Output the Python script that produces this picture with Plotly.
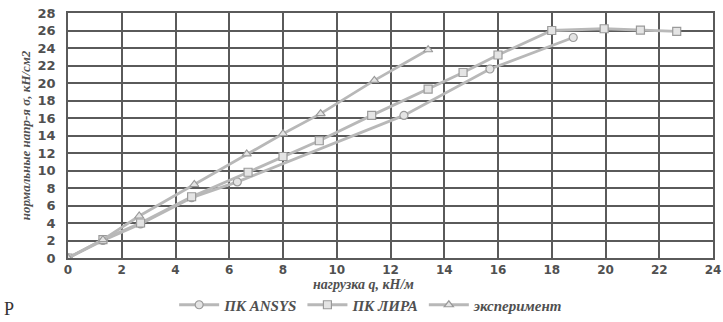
import plotly.graph_objects as go

# load q, kN/m  and normal stress sigma, kN/cm2
ansys_q = [0, 1.3, 2.7, 4.6, 6.3, 12.5, 15.7, 18.8]
ansys_s = [0, 2.0, 3.9, 6.9, 8.7, 16.3, 21.6, 25.2]

lira_q = [0, 1.3, 2.7, 4.6, 6.7, 8.0, 9.35, 11.3, 13.4, 14.7, 16.0, 18.0, 19.95, 21.3, 22.65]
lira_s = [0, 2.1, 4.0, 7.0, 9.8, 11.6, 13.4, 16.3, 19.3, 21.2, 23.2, 26.0, 26.2, 26.05, 25.9]

exp_q = [0, 1.3, 2.65, 4.7, 6.65, 8.0, 9.4, 11.4, 13.4]
exp_s = [0, 2.1, 4.8, 8.4, 11.9, 14.2, 16.5, 20.3, 23.8]

series_names = ["ПК ANSYS", "ПК ЛИРА", "эксперимент"]
x_ticks = list(range(0, 25, 2))
y_ticks = list(range(0, 29, 2))
x_title = "нагрузка q, кН/м"
y_title = "нормальные напр-я σ, кН/см2"

line_col = "#b8b8b8"
fill_col = "#e4e4e4"
edge_col = "#9a9a9a"
grid_col = "#5a5a5a"
txt_col = "#505050"
serif_bi = dict(family="Liberation Serif", color=txt_col, style="italic", weight="bold")

fig = go.Figure()
for name, xs, ys, sym in [
    (series_names[0], ansys_q, ansys_s, "circle"),
    (series_names[1], lira_q, lira_s, "square"),
    (series_names[2], exp_q, exp_s, "triangle-up"),
]:
    fig.add_trace(go.Scatter(
        x=xs, y=ys, name=name, mode="lines+markers",
        line=dict(color=line_col, width=2.8),
        marker=dict(symbol=sym, size=8, color=fill_col,
                    line=dict(color=edge_col, width=1.2)),
    ))

fig.update_layout(
    width=723, height=322,
    margin=dict(l=68, r=10, t=13, b=64, autoexpand=False),
    paper_bgcolor="white", plot_bgcolor="white",
    showlegend=True,
    legend=dict(orientation="h", x=0.47, xanchor="center",
                yref="container", y=0.104, yanchor="top",
                font=dict(size=15, **serif_bi),
                itemwidth=40, tracegroupgap=0, bgcolor="rgba(0,0,0,0)"),
    annotations=[
        # axis title for the load axis
        dict(text=x_title, x=0.458, y=-0.108, xref="paper", yref="paper",
             showarrow=False, xanchor="center", yanchor="middle",
             font=dict(size=14, **serif_bi)),
        # fragment of the figure caption at the lower-left edge
        dict(text="Р", x=-0.102, y=-0.258, xref="paper", yref="paper",
             showarrow=False, xanchor="left", yanchor="bottom",
             font=dict(family="Liberation Serif", size=18, color="#333")),
    ],
)

fig.update_xaxes(
    range=[0, 24], tickvals=x_ticks, ticktext=[str(v) for v in x_ticks],
    showgrid=True, gridcolor=grid_col, gridwidth=1.6,
    showline=True, linecolor=grid_col, linewidth=1.8, mirror=True,
    zeroline=False, ticks="", automargin=False, ticklabelstandoff=0,
    ticklabeloverflow="allow",
    tickfont=dict(family="DejaVu Sans", size=12, color=txt_col, weight="bold"),
)
fig.update_yaxes(
    range=[0, 28], tickvals=y_ticks, ticktext=[str(v) for v in y_ticks],
    showgrid=True, gridcolor=grid_col, gridwidth=1.6,
    showline=True, linecolor=grid_col, linewidth=1.8, mirror=True,
    zeroline=False, ticks="", automargin=False, ticklabelstandoff=8,
    tickfont=dict(family="DejaVu Sans", size=13, color=txt_col, weight="bold"),
    title=dict(text=y_title, standoff=4, font=dict(size=13, **serif_bi)),
)

fig.write_html("out.html")
